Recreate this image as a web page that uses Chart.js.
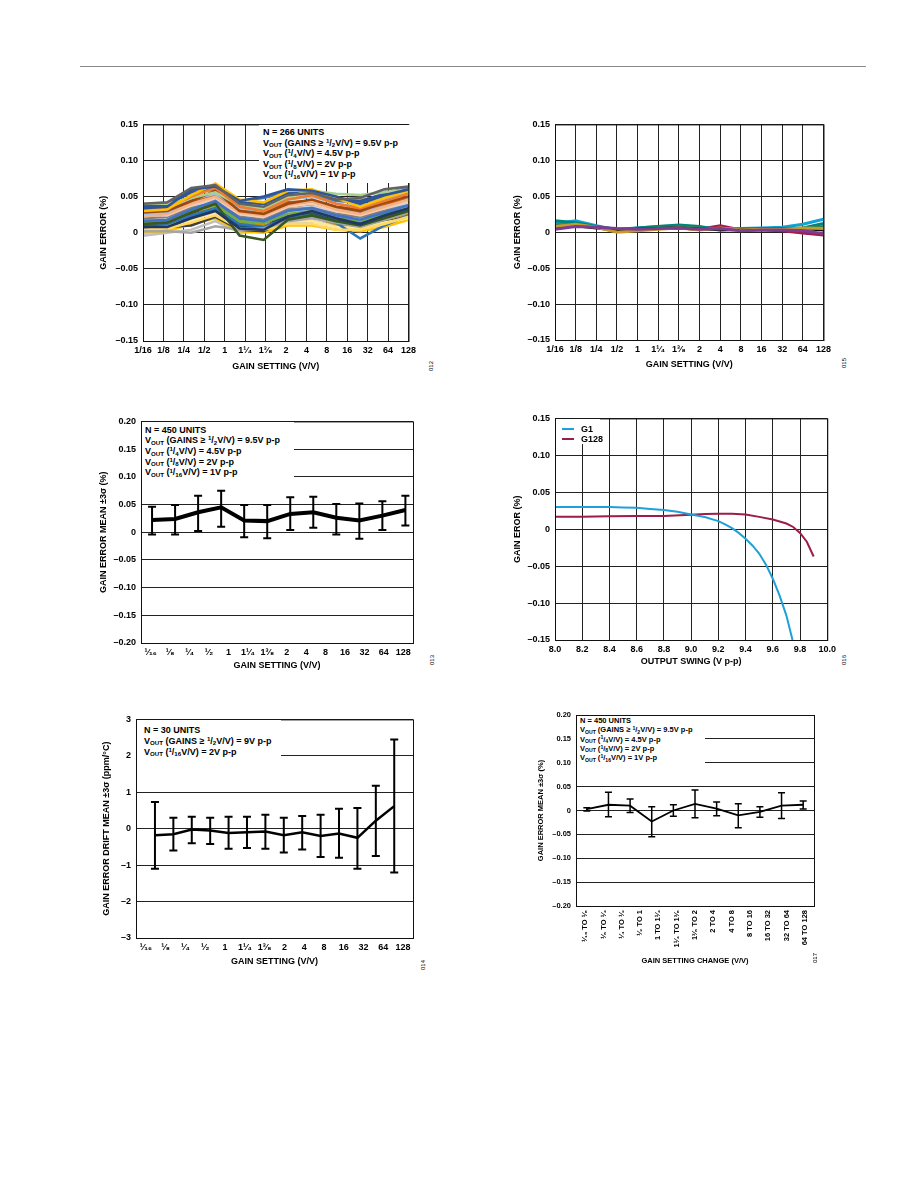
<!DOCTYPE html>
<html>
<head>
<meta charset="utf-8">
<script src="https://cdn.jsdelivr.net/npm/chart.js@4.4.1/dist/chart.umd.min.js"></script>
<style>
  body { margin: 0; background: #fff; }
  #page { position: relative; width: 918px; height: 1188px; overflow: hidden;
          font-family: 'Liberation Sans', Arial, sans-serif; font-weight: bold; color: #000; }
  canvas { position: absolute; z-index: 1; }
  .note { position: absolute; z-index: 2; background: #fff; font-size: 9px; line-height: 10.6px; white-space: nowrap; box-sizing: border-box; }
  .note sub, .note sup { font-size: 68%; line-height: 0; vertical-align: baseline; position: relative; }
  .note sup { top: -0.45em; }
  .note sub { top: 0.3em; }
  .fig { position: absolute; z-index: 2; font-size: 6px; font-weight: normal; color: #000; transform: rotate(-90deg); }
  .sw { display: inline-block; width: 12px; height: 2px; vertical-align: middle; margin-right: 7px; }
</style>
</head>
<body>
<div id="page">
  <div style="position:absolute;left:80px;top:66px;width:786px;border-top:1.5px solid #8a8a8a"></div>

  <div class="note" style="left:259px;top:125px;width:156px;height:58px;padding:2px 0 0 4px">
    N = 266 UNITS<br>
    V<sub>OUT</sub> (GAINS ≥ <sup>1</sup>/<sub>2</sub>V/V) = 9.5V p-p<br>
    V<sub>OUT</sub> (<sup>1</sup>/<sub>4</sub>V/V) = 4.5V p-p<br>
    V<sub>OUT</sub> (<sup>1</sup>/<sub>8</sub>V/V) = 2V p-p<br>
    V<sub>OUT</sub> (<sup>1</sup>/<sub>16</sub>V/V) = 1V p-p
  </div>
  <div class="note" style="left:142px;top:422px;width:152px;height:56px;padding:2.5px 0 0 3px;line-height:10.7px">
    N = 450 UNITS<br>
    V<sub>OUT</sub> (GAINS ≥ <sup>1</sup>/<sub>2</sub>V/V) = 9.5V p-p<br>
    V<sub>OUT</sub> (<sup>1</sup>/<sub>4</sub>V/V) = 4.5V p-p<br>
    V<sub>OUT</sub> (<sup>1</sup>/<sub>8</sub>V/V) = 2V p-p<br>
    V<sub>OUT</sub> (<sup>1</sup>/<sub>16</sub>V/V) = 1V p-p
  </div>
  <div class="note" style="left:137px;top:720px;width:144px;height:38px;padding:4.5px 0 0 7px;line-height:11px">
    N = 30 UNITS<br>
    V<sub>OUT</sub> (GAINS ≥ <sup>1</sup>/<sub>2</sub>V/V) = 9V p-p<br>
    V<sub>OUT</sub> (<sup>1</sup>/<sub>16</sub>V/V) = 2V p-p
  </div>
  <div class="note" style="left:577px;top:716px;width:128px;height:49px;padding:0 0 0 3px;font-size:7.5px;line-height:9.3px">
    N = 450 UNITS<br>
    V<sub>OUT</sub> (GAINS ≥ <sup>1</sup>/<sub>2</sub>V/V) = 9.5V p-p<br>
    V<sub>OUT</sub> (<sup>1</sup>/<sub>4</sub>V/V) = 4.5V p-p<br>
    V<sub>OUT</sub> (<sup>1</sup>/<sub>8</sub>V/V) = 2V p-p<br>
    V<sub>OUT</sub> (<sup>1</sup>/<sub>16</sub>V/V) = 1V p-p
  </div>
  <div class="note" style="left:556px;top:419px;width:44px;height:25px;padding:4.5px 0 0 6px;line-height:10.3px">
    <span class="sw" style="background:#1ea0d8"></span>G1<br>
    <span class="sw" style="background:#9b1d48"></span>G128
  </div>

  <div class="fig" style="left:426px;top:363px">012</div>
  <div class="fig" style="left:839px;top:360px">015</div>
  <div class="fig" style="left:427px;top:657px">013</div>
  <div class="fig" style="left:839px;top:657px">016</div>
  <div class="fig" style="left:418px;top:962px">014</div>
  <div class="fig" style="left:810px;top:955px">017</div>
</div>
<script>
// ---- data ----
const gainLabels = ['1/16', '1/8', '1/4', '1/2', '1', '1¹⁄₄', '1³⁄₈', '2', '4', '8', '16', '32', '64', '128'];
const gainFracLabels = ['¹⁄₁₆', '¹⁄₈', '¹⁄₄', '¹⁄₂', '1', '1¹⁄₄', '1³⁄₈', '2', '4', '8', '16', '32', '64', '128'];
const changeLabels = ['¹⁄₁₆ TO ¹⁄₈', '¹⁄₈ TO ¹⁄₄', '¹⁄₄ TO ¹⁄₂', '¹⁄₂ TO 1', '1 TO 1¹⁄₄', '1¹⁄₄ TO 1³⁄₈',
  '1³⁄₈ TO 2', '2 TO 4', '4 TO 8', '8 TO 16', '16 TO 32', '32 TO 64', '64 TO 128'];

// gain error per unit (%), 12 sweep points
const unitCurves = [
  [0.040, 0.042, 0.062, 0.066, 0.040, 0.036, 0.052, 0.055, 0.046, 0.048, 0.060, 0.064],
  [0.034, 0.036, 0.060, 0.064, 0.044, 0.050, 0.060, 0.058, 0.050, 0.040, 0.052, 0.060],
  [0.030, 0.032, 0.052, 0.068, 0.046, 0.042, 0.058, 0.060, 0.048, 0.036, 0.048, 0.058],
  [0.032, 0.034, 0.050, 0.062, 0.036, 0.030, 0.046, 0.052, 0.040, 0.034, 0.044, 0.054],
  [0.040, 0.040, 0.048, 0.056, 0.038, 0.034, 0.050, 0.058, 0.054, 0.052, 0.056, 0.060],
  [0.028, 0.030, 0.044, 0.058, 0.030, 0.026, 0.040, 0.046, 0.036, 0.030, 0.042, 0.050],
  [0.026, 0.028, 0.046, 0.054, 0.034, 0.030, 0.046, 0.050, 0.040, 0.036, 0.046, 0.056],
  [0.022, 0.026, 0.040, 0.050, 0.028, 0.024, 0.038, 0.044, 0.032, 0.026, 0.036, 0.046],
  [0.008, 0.008, 0.020, 0.030, 0.006, 0.004, 0.022, 0.030, 0.020, 0.012, 0.024, 0.034],
  [0.012, 0.014, 0.028, 0.040, -0.004, -0.010, 0.018, 0.024, 0.016, 0.010, 0.020, 0.030],
  [0.002, 0.002, 0.000, 0.009, 0.004, 0.006, 0.016, 0.020, 0.014, 0.008, 0.018, 0.028],
  [0.016, 0.018, 0.032, 0.044, 0.020, 0.016, 0.030, 0.034, 0.024, 0.018, 0.028, 0.038],
  [0.004, 0.006, 0.014, 0.024, 0.006, 0.004, 0.012, 0.012, 0.004, 0.004, 0.012, 0.022],
  [0.014, 0.016, 0.030, 0.038, 0.016, 0.014, 0.026, 0.030, 0.020, 0.016, 0.026, 0.034],
  [0.010, 0.012, 0.024, 0.034, 0.012, 0.008, 0.020, 0.024, 0.014, -0.008, 0.010, 0.024],
  [0.024, 0.024, 0.038, 0.048, 0.026, 0.022, 0.036, 0.040, 0.030, 0.024, 0.034, 0.044],
  [0.030, 0.030, 0.044, 0.052, 0.032, 0.028, 0.042, 0.044, 0.036, 0.032, 0.040, 0.046],
  [0.020, 0.022, 0.034, 0.042, 0.022, 0.018, 0.032, 0.034, 0.026, 0.022, 0.030, 0.038],
  [0.006, 0.006, 0.022, 0.032, 0.010, 0.006, 0.024, 0.028, 0.018, 0.014, 0.022, 0.032],
  [0.012, 0.012, 0.024, 0.036, 0.014, 0.010, 0.018, 0.022, 0.012, 0.010, 0.018, 0.026],
  [0.016, 0.016, 0.030, 0.040, 0.018, 0.014, 0.024, 0.026, 0.018, 0.014, 0.022, 0.030],
  [0.028, 0.028, 0.042, 0.050, 0.030, 0.026, 0.040, 0.044, 0.034, 0.028, 0.038, 0.048],
  [0.010, 0.010, 0.018, 0.028, 0.010, 0.008, 0.016, 0.016, 0.008, 0.006, 0.014, 0.020],
  [0.020, 0.020, 0.030, 0.036, 0.016, 0.012, 0.028, 0.030, 0.022, 0.018, 0.024, 0.032],
  [0.036, 0.038, 0.056, 0.060, 0.042, 0.040, 0.054, 0.056, 0.046, 0.044, 0.054, 0.062],
  [0.026, 0.026, 0.040, 0.052, 0.028, 0.024, 0.036, 0.040, 0.032, 0.030, 0.038, 0.046],
  [0.034, 0.034, 0.046, 0.052, 0.036, 0.032, 0.048, 0.054, 0.048, 0.046, 0.050, 0.054],
  [0.022, 0.024, 0.036, 0.044, 0.024, 0.020, 0.034, 0.038, 0.028, 0.022, 0.032, 0.040],
  [0.018, 0.020, 0.034, 0.046, 0.022, 0.020, 0.034, 0.036, 0.028, 0.022, 0.030, 0.040],
  [0.006, 0.008, 0.010, 0.022, 0.004, 0.002, 0.020, 0.022, 0.016, 0.012, 0.016, 0.026],
  [0.000, 0.002, 0.012, 0.020, 0.002, 0.000, 0.010, 0.010, 0.004, 0.002, 0.008, 0.018],
  [0.038, 0.040, 0.058, 0.062, 0.044, 0.048, 0.056, 0.054, 0.044, 0.042, 0.054, 0.062],
  [-0.004, 0.000, 0.004, 0.016, 0.000, 0.002, 0.014, 0.016, 0.010, 0.006, 0.014, 0.024],
  [0.014, 0.014, 0.026, 0.036, 0.012, 0.010, 0.022, 0.026, 0.018, 0.014, 0.022, 0.030]
];
const unitColors = ['#636363', '#2f5597', '#ffc000', '#ed7d31', '#a9d18e', '#9e480e', '#9dc3e6', '#f4b183',
  '#203864', '#385723', '#a5a5a5', '#4472c4', '#ffd966', '#70ad47', '#2e75b6', '#f8cbad', '#c55a11',
  '#7f7f7f', '#1f4e79', '#bf9000', '#548235', '#8faadc', '#ffe699', '#d9d9d9', '#2f5597', '#843c0c',
  '#c5e0b4', '#bdd7ee', '#f19c5a', '#404040', '#ffc000', '#4472c4', '#bfbfbf', '#1a1a1a'];

// gain error vs gain, a few units (%), 14 gain settings
const unitTeal    = [0.016, 0.013, 0.008, 0.004, 0.006, 0.008, 0.010, 0.008, 0.003, 0.004, 0.005, 0.005, 0.006, 0.012];
const unitCyan    = [0.012, 0.016, 0.009, 0.003, 0.006, 0.008, 0.009, 0.007, 0.004, 0.005, 0.006, 0.007, 0.011, 0.018];
const unitGold    = [0.008, 0.011, 0.007, 0.000, 0.002, 0.004, 0.006, 0.003, 0.006, 0.003, 0.004, 0.004, 0.006, 0.005];
const unitPurple  = [0.004, 0.008, 0.007, 0.005, 0.004, 0.005, 0.006, 0.004, 0.005, 0.002, 0.003, 0.003, 0.002, -0.002];
const unitCrimson = [0.009, 0.012, 0.007, 0.003, 0.003, 0.005, 0.006, 0.004, 0.009, 0.003, 0.003, 0.002, -0.001, -0.004];
const unitBlack   = [0.006, 0.009, 0.006, 0.002, 0.004, 0.005, 0.006, 0.004, 0.004, 0.003, 0.004, 0.004, 0.005, 0.003];
const unitGreen   = [0.010, 0.010, 0.007, 0.003, 0.004, 0.006, 0.008, 0.006, 0.003, 0.004, 0.005, 0.004, 0.004, 0.008];

// mean ±3σ, N = 450
const gainMean = [0.022, 0.024, 0.036, 0.045, 0.021, 0.020, 0.033, 0.036, 0.026, 0.021, 0.030, 0.040];
const gainUp   = [0.046, 0.049, 0.066, 0.075, 0.049, 0.049, 0.063, 0.064, 0.051, 0.052, 0.056, 0.066];
const gainLo   = [-0.004, -0.004, 0.002, 0.010, -0.009, -0.011, 0.004, 0.008, -0.004, -0.012, 0.004, 0.012];

// gain error vs output swing
const g1Swing   = [8.0, 8.2, 8.4, 8.5, 8.6, 8.7, 8.8, 8.9, 9.0, 9.1, 9.2, 9.25, 9.3, 9.35, 9.4, 9.45, 9.5, 9.55, 9.6, 9.65, 9.7, 9.745];
const g1Err     = [0.030, 0.030, 0.030, 0.0295, 0.029, 0.0275, 0.026, 0.0235, 0.020, 0.0165, 0.011, 0.0065, 0.0015, -0.005,
  -0.013, -0.022, -0.033, -0.048, -0.067, -0.090, -0.117, -0.150];
const g128Swing = [8.0, 8.2, 8.4, 8.6, 8.8, 9.0, 9.1, 9.2, 9.3, 9.4, 9.5, 9.6, 9.65, 9.7, 9.75, 9.8, 9.85, 9.9];
const g128Err   = [0.0167, 0.017, 0.0175, 0.0178, 0.018, 0.0194, 0.0205, 0.021, 0.021, 0.0198, 0.0167, 0.013, 0.0105,
  0.0077, 0.003, -0.005, -0.017, -0.037];

// drift mean ±3σ (ppm/°C), N = 30
const driftMean = [-0.18, -0.15, -0.02, -0.05, -0.12, -0.10, -0.08, -0.18, -0.10, -0.20, -0.13, -0.25, 0.22, 0.62];
const driftUp   = [0.73, 0.30, 0.33, 0.30, 0.33, 0.33, 0.38, 0.30, 0.35, 0.38, 0.55, 0.57, 1.18, 2.45];
const driftLo   = [-1.10, -0.60, -0.40, -0.42, -0.55, -0.53, -0.55, -0.65, -0.57, -0.78, -0.80, -1.10, -0.75, -1.20];

// gain setting change mean ±3σ (%)
const changeMean = [0.003, 0.012, 0.010, -0.023, 0.000, 0.014, 0.004, -0.010, -0.003, 0.010, 0.012];
const changeUp   = [0.006, 0.038, 0.024, 0.008, 0.012, 0.043, 0.018, 0.014, 0.008, 0.037, 0.020];
const changeLo   = [-0.001, -0.013, -0.004, -0.055, -0.012, -0.015, -0.011, -0.036, -0.014, -0.017, 0.003];

// ---- helpers ----
Chart.defaults.font.family = "'Liberation Sans', Arial, sans-serif";
Chart.defaults.font.size = 9;
Chart.defaults.font.weight = 'bold';
Chart.defaults.color = '#000';
Chart.defaults.animation = false;
Chart.defaults.plugins.legend.display = false;
Chart.defaults.plugins.tooltip.enabled = false;
Chart.defaults.elements.point.radius = 0;
Chart.defaults.elements.line.tension = 0;

const pct = v => Math.abs(v) < 1e-9 ? '0' : (v < 0 ? '–' : '') + Math.abs(v).toFixed(2);
const pts = (ys, xs) => ys.map((y, i) => ({ x: xs ? xs[i] : i, y }));

const frame = {
  id: 'frame',
  afterDraw(chart) {
    const { ctx, chartArea: a } = chart;
    ctx.save();
    ctx.strokeStyle = '#111';
    ctx.lineWidth = 1;
    ctx.strokeRect(a.left + 0.5, a.top + 0.5, a.right - a.left, a.bottom - a.top);
    ctx.restore();
  }
};

const errorBars = {
  id: 'errorBars',
  afterDatasetsDraw(chart, args, o) {
    const { ctx } = chart;
    const xs = chart.scales.xd, ys = chart.scales.y;
    ctx.save();
    ctx.strokeStyle = '#000';
    ctx.lineWidth = o.width;
    o.upper.forEach((u, i) => {
      const x = xs.getPixelForValue(i);
      const y1 = ys.getPixelForValue(u), y2 = ys.getPixelForValue(o.lower[i]);
      ctx.beginPath();
      ctx.moveTo(x, y1); ctx.lineTo(x, y2);
      ctx.moveTo(x - o.cap, y1); ctx.lineTo(x + o.cap, y1);
      ctx.moveTo(x - o.cap, y2); ctx.lineTo(x + o.cap, y2);
      ctx.stroke();
    });
    ctx.restore();
  }
};

function build(box, cfg) {
  const c = document.createElement('canvas');
  c.width = box.w; c.height = box.h;
  c.style.left = box.x + 'px'; c.style.top = box.y + 'px';
  document.getElementById('page').appendChild(c);
  const o = cfg.options;
  o.responsive = false;
  o.layout = { padding: { left: 0, top: box.T - box.y, right: box.x + box.w - box.R, bottom: 0 } };
  const lh = (box.fs || 9) * 1.2;
  o.scales.y.afterFit = s => { s.width = box.L - box.x; };
  o.scales.x.afterFit = s => { s.height = box.y + box.h - box.B; };
  o.scales.y.title.padding = { top: box.yTitleX - box.x - lh / 2, bottom: 0 };
  o.scales.x.title.padding = { top: 0, bottom: box.y + box.h - box.xTitleY - lh / 2 };
  cfg.plugins = (cfg.plugins || []).concat([frame]);
  return new Chart(c, cfg);
}

const gridY = { color: '#222', lineWidth: 1, drawTicks: false };
const noGrid = { display: false, drawTicks: false };
const noBorder = { display: false };

function pctAxis(min, max, title, fs) {
  return {
    min, max, border: noBorder, grid: gridY,
    ticks: { stepSize: 0.05, padding: 5, callback: pct, font: { size: fs || 9 } },
    title: { display: true, text: title, font: { size: fs || 9 } }
  };
}

// 1: gain error, all units
build({ x: 90, y: 114, w: 330, h: 262, L: 143, T: 124, R: 416, B: 341, yTitleX: 104, xTitleY: 367 }, {
  type: 'line',
  data: {
    datasets: unitCurves.map((v, k) => ({ data: pts(v), borderColor: unitColors[k], borderWidth: 2.6, xAxisID: 'xd' }))
  },
  options: {
    scales: {
      x: { type: 'category', labels: gainLabels, offset: false, border: noBorder,
           grid: { color: '#222', drawTicks: false, offset: false },
           ticks: { autoSkip: false, maxRotation: 0, padding: 4 },
           title: { display: true, text: 'GAIN SETTING (V/V)' } },
      xd: { type: 'linear', display: false, min: 0, max: 11 },
      y: pctAxis(-0.15, 0.15, 'GAIN ERROR (%)')
    }
  }
});

// 2: gain error, few units
const c2Series = [[unitPurple, '#7d3c8f'], [unitGold, '#c49a2c'], [unitBlack, '#111111'], [unitGreen, '#2e7d5b'],
  [unitTeal, '#00857a'], [unitCyan, '#12a3d5'], [unitCrimson, '#a31a4f']];
build({ x: 505, y: 114, w: 330, h: 262, L: 555, T: 124, R: 826, B: 340, yTitleX: 518, xTitleY: 365 }, {
  type: 'line',
  data: {
    labels: gainLabels,
    datasets: c2Series.map(([v, col]) => ({ data: v, borderColor: col, borderWidth: 3 }))
  },
  options: {
    scales: {
      x: { type: 'category', offset: false, border: noBorder,
           grid: { color: '#222', drawTicks: false, offset: false },
           ticks: { autoSkip: false, maxRotation: 0, padding: 4 },
           title: { display: true, text: 'GAIN SETTING (V/V)' } },
      y: pctAxis(-0.15, 0.15, 'GAIN ERROR (%)')
    }
  }
});

// 3: mean ±3σ
build({ x: 90, y: 411, w: 330, h: 266, L: 141, T: 421, R: 413, B: 643, yTitleX: 104, xTitleY: 666 }, {
  type: 'line',
  data: { datasets: [{ data: pts(gainMean), borderColor: '#000', borderWidth: 4, xAxisID: 'xd' }] },
  plugins: [errorBars],
  options: {
    plugins: { errorBars: { upper: gainUp, lower: gainLo, width: 2, cap: 4 } },
    scales: {
      x: { type: 'category', labels: gainFracLabels, offset: true, border: noBorder, grid: noGrid,
           ticks: { autoSkip: false, maxRotation: 0, padding: 4 },
           title: { display: true, text: 'GAIN SETTING (V/V)' } },
      xd: { type: 'linear', display: false, min: -0.48, max: 11.33 },
      y: pctAxis(-0.20, 0.20, 'GAIN ERROR MEAN ±3σ (%)')
    }
  }
});

// 4: gain error vs output swing
build({ x: 505, y: 408, w: 335, h: 266, L: 555, T: 418, R: 833, B: 640, yTitleX: 518, xTitleY: 662 }, {
  type: 'line',
  data: {
    datasets: [
      { data: pts(g1Err, g1Swing), borderColor: '#1ea0d8', borderWidth: 2 },
      { data: pts(g128Err, g128Swing), borderColor: '#9b1d48', borderWidth: 2 }
    ]
  },
  options: {
    scales: {
      x: { type: 'linear', min: 8, max: 10, border: noBorder, grid: { color: '#222', drawTicks: false },
           ticks: { stepSize: 0.2, padding: 4, maxRotation: 0, callback: v => v.toFixed(1) },
           title: { display: true, text: 'OUTPUT SWING (V p-p)' } },
      y: pctAxis(-0.15, 0.15, 'GAIN EROR (%)')
    }
  }
});

// 5: drift mean ±3σ
build({ x: 90, y: 709, w: 330, h: 265, L: 136, T: 719, R: 413, B: 938, yTitleX: 107, xTitleY: 962 }, {
  type: 'line',
  data: { datasets: [{ data: pts(driftMean), borderColor: '#000', borderWidth: 2.5, xAxisID: 'xd' }] },
  plugins: [errorBars],
  options: {
    plugins: { errorBars: { upper: driftUp, lower: driftLo, width: 2, cap: 4 } },
    scales: {
      x: { type: 'category', labels: gainFracLabels, offset: true, border: noBorder, grid: noGrid,
           ticks: { autoSkip: false, maxRotation: 0, padding: 4 },
           title: { display: true, text: 'GAIN SETTING (V/V)' } },
      xd: { type: 'linear', display: false, min: -1.03, max: 14.02 },
      y: { min: -3, max: 3, border: noBorder, grid: gridY,
           ticks: { stepSize: 1, padding: 5, callback: v => v === 0 ? '0' : (v < 0 ? '–' : '') + Math.abs(v) },
           title: { display: true, text: 'GAIN ERROR DRIFT MEAN ±3σ (ppm/°C)' } }
    }
  }
});

// 6: gain setting change mean ±3σ
build({ x: 525, y: 705, w: 295, h: 265, L: 576, T: 715, R: 814, B: 906, yTitleX: 541, xTitleY: 961, fs: 7.5 }, {
  type: 'line',
  data: { datasets: [{ data: pts(changeMean), borderColor: '#000', borderWidth: 1.8, xAxisID: 'xd' }] },
  plugins: [errorBars],
  options: {
    plugins: { errorBars: { upper: changeUp, lower: changeLo, width: 1.5, cap: 3.5 } },
    scales: {
      x: { type: 'category', labels: changeLabels, offset: true, border: noBorder, grid: noGrid,
           ticks: { autoSkip: false, minRotation: 90, maxRotation: 90, padding: 4, font: { size: 7.5 } },
           title: { display: true, text: 'GAIN SETTING CHANGE (V/V)', font: { size: 7.5 } } },
      xd: { type: 'linear', display: false, min: -0.5, max: 10.5 },
      y: pctAxis(-0.20, 0.20, 'GAIN ERROR MEAN ±3σ (%)', 7.5)
    }
  }
});
</script>
</body>
</html>
